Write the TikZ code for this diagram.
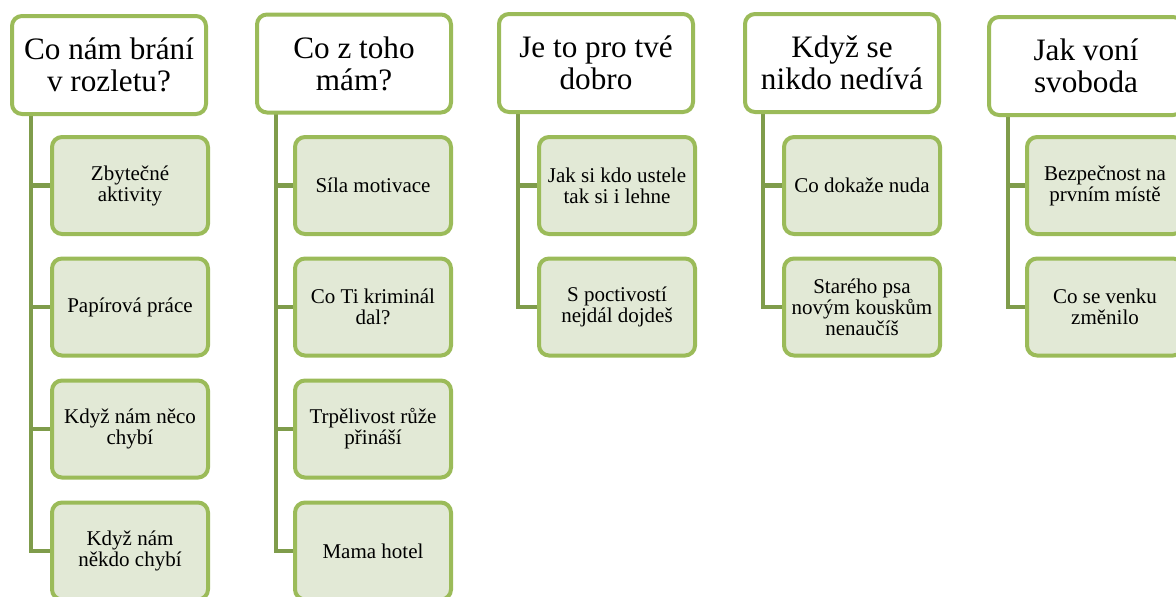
\documentclass[tikz,border=0pt]{standalone}
\usepackage{fontspec}
\setmainfont{Liberation Serif}
\usepackage{xcolor}
\definecolor{olivebd}{HTML}{9BBB59}
\definecolor{olivedk}{HTML}{7F9C4B}
\definecolor{olivebg}{HTML}{E2E9D6}
\tikzset{
  topic/.style={draw=olivebd, line width=2pt, rounded corners=5pt, fill=white,
    minimum width=97pt, minimum height=49pt, inner sep=0pt, align=center,
    font=\fontsize{15.6}{16}\selectfont},
  item/.style={draw=olivebd, line width=2pt, rounded corners=5pt, fill=olivebg,
    minimum width=78pt, minimum height=48.5pt, inner sep=0pt, align=center,
    font=\fontsize{10.5}{10.5}\selectfont},
  link/.style={draw=olivedk, line width=2.2pt}
}
\begin{document}
\begin{tikzpicture}[x=0.5pt,y=-0.5pt]
		\useasboundingbox (0,0) rectangle (1176,596);
		% trunk points
		\coordinate (t1) at (31,114);
		\coordinate (t2) at (276,112);
		\coordinate (t3) at (518,112);
		\coordinate (t4) at (763,112);
		\coordinate (t5) at (1008,114);
		% children
		\node[item] (c11) at (130,185.5) {Zbytečné\\aktivity};
		\node[item] (c12) at (130,307) {Papírová práce};
		\node[item] (c13) at (130,429) {Když nám něco\\chybí};
		\node[item] (c14) at (130,551) {Když nám\\někdo chybí};
		\node[item] (c21) at (373,185.5) {Síla motivace};
		\node[item] (c22) at (373,307) {Co Ti kriminál\\dal?};
		\node[item] (c23) at (373,429) {Trpělivost růže\\přináší};
		\node[item] (c24) at (373,551) {Mama hotel};
		\node[item] (c31) at (617,185.5) {Jak si kdo ustele\\tak si i lehne};
		\node[item] (c32) at (617,307) {S poctivostí\\nejdál dojdeš};
		\node[item] (c41) at (862,185.5) {Co dokaže nuda};
		\node[item] (c42) at (862,307) {Starého psa\\novým kouskům\\nenaučíš};
		\node[item] (c51) at (1105,185.5) {Bezpečnost na\\prvním místě};
		\node[item] (c52) at (1105,307) {Co se venku\\změnilo};
		% connectors
		\draw[link] (t1) |- (c14.west);
		\foreach \c in {c11,c12,c13} \draw[link] (t1 |- \c.west) -- (\c.west);
		\draw[link] (t2) |- (c24.west);
		\foreach \c in {c21,c22,c23} \draw[link] (t2 |- \c.west) -- (\c.west);
		\draw[link] (t3) |- (c32.west);
		\draw[link] (t3 |- c31.west) -- (c31.west);
		\draw[link] (t4) |- (c42.west);
		\draw[link] (t4 |- c41.west) -- (c41.west);
		\draw[link] (t5) |- (c52.west);
		\draw[link] (t5 |- c51.west) -- (c51.west);
		% topics
		\node[topic] (h1) at (109,65) {Co nám brání\\v rozletu?};
		\node[topic] (h2) at (354,63.5) {Co z toho\\mám?};
		\node[topic] (h3) at (596,63) {Je to pro tvé\\dobro};
		\node[topic] (h4) at (842,63) {Když se\\nikdo nedívá};
		\node[topic] (h5) at (1086,66) {Jak voní\\svoboda};
	\end{tikzpicture}
\end{document}
